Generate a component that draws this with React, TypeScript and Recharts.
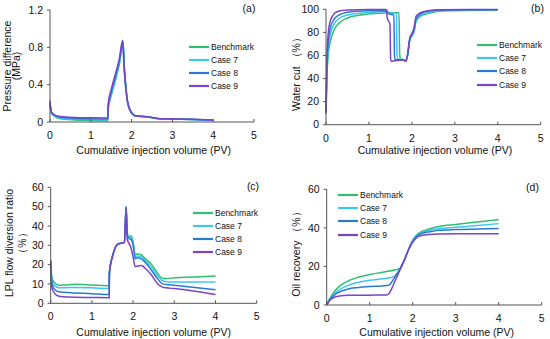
import { LineChart, Line, XAxis, YAxis, Legend, Label } from "recharts";

const font = "'Liberation Sans', Arial, sans-serif";
const axisColor = "#555";
const textColor = "#111";

const xTicks = [0, 1, 2, 3, 4, 5];
const seriesNames = ["Benchmark", "Case 7", "Case 8", "Case 9"];
const seriesColors = ["#2fbf6e", "#3cc6f2", "#2b7ad2", "#7b43c9"];

// (a) pressure difference, MPa  [PV, value]
const pdBenchmark = [[0, 0.18], [0.03, 0.1], [0.1, 0.065], [0.25, 0.035], [0.6, 0.022], [1.0, 0.017], [1.42, 0.014], [1.425, 0.13], [1.5, 0.28], [1.6, 0.44], [1.7, 0.62], [1.79, 0.84], [1.82, 0.58], [1.86, 0.36], [1.9, 0.21], [1.95, 0.13], [2.05, 0.072], [2.1, 0.063], [2.4, 0.053], [2.6, 0.038], [2.7, 0.033], [3.0, 0.03], [3.5, 0.026], [4.0, 0.019]];
const pdCase7 = [[0, 0.2], [0.03, 0.105], [0.1, 0.07], [0.25, 0.042], [0.6, 0.03], [1.0, 0.025], [1.42, 0.022], [1.425, 0.15], [1.5, 0.3], [1.6, 0.46], [1.7, 0.64], [1.79, 0.855], [1.82, 0.59], [1.86, 0.37], [1.9, 0.215], [1.95, 0.135], [2.05, 0.074], [2.1, 0.064], [2.4, 0.054], [2.6, 0.039], [2.7, 0.034], [3.0, 0.031], [3.5, 0.027], [4.0, 0.02]];
const pdCase8 = [[0, 0.21], [0.03, 0.11], [0.1, 0.075], [0.25, 0.05], [0.6, 0.038], [1.0, 0.034], [1.42, 0.032], [1.425, 0.17], [1.5, 0.32], [1.6, 0.48], [1.7, 0.66], [1.79, 0.865], [1.82, 0.6], [1.86, 0.38], [1.9, 0.22], [1.95, 0.14], [2.05, 0.076], [2.1, 0.066], [2.4, 0.055], [2.6, 0.04], [2.7, 0.035], [3.0, 0.032], [3.5, 0.028], [4.0, 0.021]];
const pdCase9 = [[0, 0.23], [0.03, 0.115], [0.1, 0.08], [0.25, 0.058], [0.6, 0.048], [1.0, 0.045], [1.42, 0.043], [1.425, 0.19], [1.5, 0.35], [1.6, 0.51], [1.7, 0.68], [1.78, 0.875], [1.81, 0.62], [1.85, 0.39], [1.9, 0.225], [1.95, 0.145], [2.05, 0.078], [2.1, 0.068], [2.4, 0.056], [2.6, 0.041], [2.7, 0.036], [3.0, 0.033], [3.5, 0.029], [4.0, 0.022]];

// (b) water cut, %
const wcBenchmark = [[0, 10], [0.02, 40], [0.05, 60], [0.1, 72], [0.2, 83], [0.3, 88], [0.5, 92.5], [0.8, 95], [1.2, 96.5], [1.42, 97], [1.7, 97], [1.715, 62], [1.73, 57], [1.8, 56.5], [1.86, 56], [1.9, 60], [1.95, 73], [2.0, 77], [2.05, 81], [2.1, 90], [2.2, 94], [2.4, 96.5], [2.7, 98.5], [3.0, 99], [4.0, 99.3]];
const wcCase7 = [[0, 10], [0.02, 45], [0.05, 65], [0.1, 78], [0.2, 88], [0.3, 92], [0.5, 95], [1.0, 97.3], [1.42, 98], [1.45, 96.5], [1.64, 96.5], [1.655, 60], [1.67, 57], [1.8, 56], [1.86, 55.5], [1.9, 60], [1.95, 73], [2.0, 77], [2.05, 81], [2.1, 91], [2.2, 95], [2.4, 97.5], [2.7, 99], [4.0, 99.5]];
const wcCase8 = [[0, 10], [0.02, 50], [0.05, 70], [0.1, 84], [0.2, 92], [0.3, 95], [0.5, 97.5], [1.0, 98.8], [1.42, 99], [1.46, 96], [1.58, 95], [1.595, 60], [1.61, 56.5], [1.8, 56], [1.86, 55], [1.9, 60], [1.95, 74], [2.0, 78], [2.05, 82], [2.1, 92], [2.2, 96], [2.4, 98.5], [2.7, 99.3], [4.0, 99.6]];
const wcCase9 = [[0, 10], [0.02, 56], [0.05, 78], [0.1, 90], [0.2, 96.5], [0.3, 98.5], [0.5, 99.5], [1.0, 99.8], [1.4, 99.8], [1.43, 92], [1.47, 89], [1.49, 87], [1.505, 57], [1.52, 55], [1.6, 55.5], [1.8, 56], [1.86, 55], [1.9, 61], [1.95, 75], [2.0, 79], [2.05, 84], [2.1, 94], [2.2, 97], [2.4, 99], [2.7, 99.7], [4.0, 99.8]];

// (c) LPL flow diversion ratio, %
const lplBenchmark = [[0, 22], [0.03, 13], [0.1, 10.5], [0.2, 9.3], [0.35, 9.5], [0.6, 9.8], [1.0, 9.5], [1.42, 9.1], [1.425, 16], [1.45, 20], [1.5, 24.5], [1.56, 28.5], [1.62, 30.5], [1.7, 31], [1.79, 31.5], [1.83, 50], [1.86, 36], [1.9, 34.5], [1.95, 34.8], [2.0, 32], [2.05, 25], [2.1, 25.5], [2.2, 25], [2.3, 23], [2.45, 20], [2.6, 15.5], [2.7, 13], [2.8, 12.8], [3.0, 13.2], [3.5, 13.6], [4.0, 14.1]];
const lplCase7 = [[0, 22], [0.03, 11], [0.1, 9], [0.2, 8], [0.5, 8.2], [1.0, 8], [1.42, 7.6], [1.425, 16], [1.45, 20], [1.5, 24.5], [1.56, 28.5], [1.62, 30.5], [1.7, 31], [1.79, 31.5], [1.83, 50], [1.86, 35.5], [1.9, 34], [1.95, 34], [2.0, 31], [2.05, 24], [2.1, 24.5], [2.2, 24], [2.3, 22], [2.45, 18.5], [2.6, 14], [2.7, 11.8], [2.8, 11.2], [3.0, 11], [3.5, 11], [4.0, 11]];
const lplCase8 = [[0, 22], [0.03, 10], [0.1, 7], [0.2, 6], [0.5, 5.5], [1.0, 5], [1.42, 4.5], [1.425, 15.5], [1.45, 20], [1.5, 24.5], [1.56, 28.5], [1.62, 30.5], [1.7, 31], [1.79, 31.5], [1.83, 50], [1.86, 35], [1.9, 33.5], [1.95, 33], [2.0, 30], [2.05, 23], [2.1, 23.5], [2.2, 23], [2.3, 21], [2.45, 17], [2.6, 12.5], [2.7, 10.2], [2.8, 9.7], [3.0, 9.3], [3.5, 8.2], [4.0, 7]];
const lplCase9 = [[0, 22], [0.03, 8], [0.1, 5], [0.2, 3.6], [0.4, 3.2], [1.0, 3], [1.42, 2.9], [1.425, 15], [1.45, 19.5], [1.5, 24], [1.56, 28.5], [1.62, 30.5], [1.7, 31], [1.79, 31.5], [1.83, 49], [1.86, 33], [1.9, 31], [1.95, 28.5], [2.0, 24], [2.05, 19], [2.1, 19.2], [2.2, 19.5], [2.3, 18], [2.45, 14.5], [2.6, 10], [2.7, 8.5], [2.8, 8], [3.0, 7.6], [3.5, 6.2], [4.0, 4.5]];

// (d) oil recovery, %
const orBenchmark = [[0, 0], [0.05, 2.5], [0.1, 4.5], [0.2, 7.5], [0.3, 9.8], [0.5, 12.5], [0.7, 14.2], [1.0, 15.8], [1.3, 17], [1.6, 18.3], [1.7, 19], [1.8, 23], [1.9, 28.5], [2.0, 33.5], [2.1, 36.5], [2.2, 38], [2.4, 39.5], [2.6, 40.7], [3.0, 41.8], [3.5, 43], [4.0, 44.2]];
const orCase7 = [[0, 0], [0.05, 2.2], [0.1, 4], [0.2, 6.3], [0.3, 8], [0.5, 10.2], [0.7, 11.5], [1.0, 12.8], [1.3, 13.6], [1.55, 14.5], [1.6, 15.5], [1.7, 18.5], [1.8, 23], [1.9, 28.5], [2.0, 33.5], [2.1, 36.3], [2.2, 37.5], [2.4, 38.8], [2.6, 39.5], [3.0, 40.3], [3.5, 41.2], [4.0, 42.2]];
const orCase8 = [[0, 0], [0.05, 2], [0.1, 3.5], [0.2, 5.5], [0.3, 6.8], [0.5, 8.3], [0.7, 9], [1.0, 9.6], [1.3, 9.9], [1.45, 10.3], [1.5, 11.5], [1.6, 15], [1.7, 18.5], [1.8, 23], [1.9, 28.5], [2.0, 33], [2.1, 35.8], [2.2, 37], [2.4, 38], [2.6, 38.7], [3.0, 39.1], [3.5, 39.4], [4.0, 39.7]];
const orCase9 = [[0, 0], [0.05, 1.8], [0.1, 3], [0.2, 4.2], [0.3, 4.7], [0.5, 5], [1.0, 5.1], [1.38, 5.2], [1.45, 6], [1.5, 8], [1.6, 13], [1.7, 18], [1.8, 23], [1.9, 28.5], [2.0, 32.5], [2.1, 35], [2.2, 36], [2.4, 36.6], [2.6, 36.8], [3.0, 36.9], [4.0, 36.9]];

const toRows = (pts: number[][]) => pts.map(([x, y]) => ({ x, y }));

const LegendBox = () => (
  <div style={{ fontFamily: font, fontSize: 8.5, color: textColor }}>
    {seriesNames.map((n, i) => (
      <div key={n} style={{ display: "flex", alignItems: "center", height: 13.2 }}>
        <svg width={20} height={4}>
          <line x1={0} x2={20} y1={2} y2={2} stroke={seriesColors[i]} strokeWidth={2.2} />
        </svg>
        <span style={{ marginLeft: 2, whiteSpace: "nowrap" }}>{n}</span>
      </div>
    ))}
  </div>
);

interface PanelProps {
  left: number;
  top: number;
  width: number;
  height: number;
  mTop: number;
  mRight: number;
  yWidth: number;
  xHeight: number;
  yDomain: number[];
  yTicks: number[];
  series: number[][][];
  yTitle: { text: string; cx: number }[];
  yTitleCy: number;
  xTitle: { x: number; y: number };
  letter: { text: string; x: number; y: number };
  legend: { left: number; top: number };
}

function Panel(p: PanelProps) {
  const plotBottom = p.height - p.xHeight;
  const xTick = (t: any) => (
    <g>
      <line x1={t.x} x2={t.x} y1={plotBottom} y2={plotBottom - 3} stroke={axisColor} />
      <text x={t.x} y={plotBottom + 13} textAnchor="middle" dominantBaseline="central" fontSize={10.5} fontFamily={font} fill={textColor}>
        {t.payload.value}
      </text>
    </g>
  );
  const txt = { fontSize: 10.5, fontFamily: font, fill: textColor };
  return (
    <div style={{ position: "absolute", left: p.left, top: p.top }}>
      <LineChart width={p.width} height={p.height} margin={{ top: p.mTop, right: p.mRight, left: 0, bottom: 0 }}>
        <XAxis
          dataKey="x"
          type="number"
          domain={[0, 5]}
          ticks={xTicks}
          interval={0}
          height={p.xHeight}
          tickLine={false}
          tick={xTick}
          axisLine={{ stroke: axisColor }}
        >
          <Label
            content={() => (
              <text x={p.xTitle.x} y={p.xTitle.y} textAnchor="middle" dominantBaseline="central" {...txt}>
                Cumulative injection volume (PV)
              </text>
            )}
          />
        </XAxis>
        <YAxis
          type="number"
          domain={p.yDomain}
          ticks={p.yTicks}
          interval={0}
          width={p.yWidth}
          tickSize={3}
          tickMargin={4}
          tickLine={{ stroke: axisColor }}
          axisLine={{ stroke: axisColor }}
          tick={txt}
        >
          <Label
            content={() => (
              <g>
                {p.yTitle.map((l) => (
                  <text
                    key={l.text}
                    x={l.cx}
                    y={p.yTitleCy}
                    textAnchor="middle"
                    dominantBaseline="central"
                    transform={`rotate(-90 ${l.cx} ${p.yTitleCy})`}
                    {...txt}
                  >
                    {l.text}
                  </text>
                ))}
                <text x={p.letter.x} y={p.letter.y} textAnchor="middle" dominantBaseline="central" {...txt}>
                  {p.letter.text}
                </text>
              </g>
            )}
          />
        </YAxis>
        <Legend
          layout="vertical"
          align="center"
          verticalAlign="middle"
          wrapperStyle={{ left: p.legend.left, top: p.legend.top, width: 80, height: 54 }}
          content={() => <LegendBox />}
        />
        {p.series.map((s, i) => (
          <Line
            key={seriesNames[i]}
            name={seriesNames[i]}
            data={toRows(s)}
            dataKey="y"
            type="monotone"
            stroke={seriesColors[i]}
            strokeWidth={1.5}
            dot={false}
            isAnimationActive={false}
          />
        ))}
      </LineChart>
    </div>
  );
}

export default function App() {
  return (
    <div style={{ position: "absolute", left: 0, top: 0, width: 550, height: 339, background: "#fff", overflow: "hidden" }}>
      <Panel
        left={0} top={0} width={275} height={170}
        mTop={10} mRight={21} yWidth={50} xHeight={48}
        yDomain={[0, 1.2]} yTicks={[0, 0.4, 0.8, 1.2]}
        series={[pdBenchmark, pdCase7, pdCase8, pdCase9]}
        yTitle={[{ text: "Pressure difference", cx: 6.5 }, { text: "(MPa)", cx: 16 }]}
        yTitleCy={66}
        xTitle={{ x: 153.7, y: 150 }}
        letter={{ text: "(a)", x: 249, y: 7.5 }}
        legend={{ left: 189, top: 40 }}
      />
      <Panel
        left={275} top={0} width={275} height={170}
        mTop={9.3} mRight={9.3} yWidth={51} xHeight={45.3}
        yDomain={[0, 100]} yTicks={[0, 20, 40, 60, 80, 100]}
        series={[wcBenchmark, wcCase7, wcCase8, wcCase9]}
        yTitle={[{ text: "Water cut （%）", cx: 21 }]}
        yTitleCy={71.5}
        xTitle={{ x: 160, y: 150 }}
        letter={{ text: "(b)", x: 262.5, y: 7.5 }}
        legend={{ left: 202, top: 38.4 }}
      />
      <Panel
        left={0} top={170} width={275} height={169}
        mTop={17.3} mRight={18.3} yWidth={50.7} xHeight={35.7}
        yDomain={[0, 60]} yTicks={[0, 10, 20, 30, 40, 50, 60]}
        series={[lplBenchmark, lplCase7, lplCase8, lplCase9]}
        yTitle={[{ text: "LPL flow diversion ratio", cx: 9 }, { text: "（%）", cx: 21.5 }]}
        yTitleCy={73}
        xTitle={{ x: 153.7, y: 161.7 }}
        letter={{ text: "(c)", x: 253, y: 16 }}
        legend={{ left: 193, top: 36.1 }}
      />
      <Panel
        left={275} top={170} width={275} height={169}
        mTop={19.3} mRight={8.3} yWidth={51.7} xHeight={34}
        yDomain={[0, 60]} yTicks={[0, 20, 40, 60]}
        series={[orBenchmark, orCase7, orCase8, orCase9]}
        yTitle={[{ text: "Oil recovery （%）", cx: 20.5 }]}
        yTitleCy={81.5}
        xTitle={{ x: 161.7, y: 162.3 }}
        letter={{ text: "(d)", x: 257.5, y: 17 }}
        legend={{ left: 63, top: 18.4 }}
      />
    </div>
  );
}
